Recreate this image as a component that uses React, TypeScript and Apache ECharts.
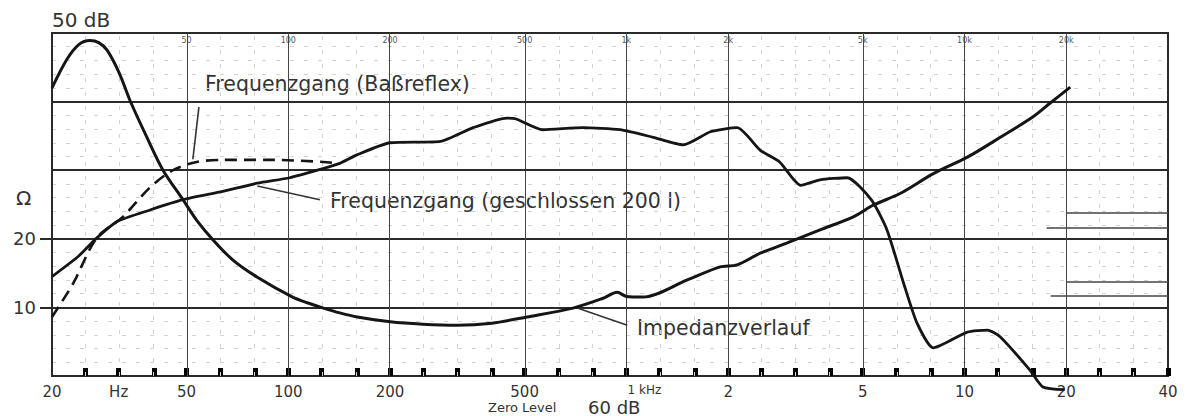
import React, { useEffect, useRef } from "react";
import * as echarts from "echarts";

// ---------- data ----------
const X_MIN_HZ = 20;
const X_MAX_HZ = 40000;

const IMP_FREQ = [20, 22.1, 24, 25.9, 27.5, 29.1, 31.6, 34, 38, 42.6, 48.8, 53.6, 60, 68.6, 81, 103, 115, 127, 142, 160, 200, 250, 316, 400, 508, 695, 850, 940, 1000, 1120, 1514, 1894, 2127, 2490, 2990, 3740, 4690, 5370, 6450, 8090, 10200, 12770, 15960, 17940, 20560];
const IMP_OHM = [42, 46.1, 48.3, 48.9, 48.6, 47.5, 44.2, 40.2, 35, 30, 25.7, 22.7, 19.8, 16.9, 14.4, 11.5, 10.6, 9.9, 9.2, 8.6, 7.9, 7.55, 7.4, 7.7, 8.6, 9.9, 11.3, 12.2, 11.6, 11.5, 14.0, 15.9, 16.2, 17.9, 19.4, 21.3, 23.2, 24.9, 26.6, 29.5, 31.9, 34.8, 37.8, 39.8, 42.1];

const CLOSED_FREQ = [20, 24, 27.1, 31.1, 39, 48.8, 64, 81, 101, 122, 142, 159, 200, 282, 352, 444, 470, 566, 744, 957, 1200, 1473, 1772, 2127, 2490, 2840, 3276, 3740, 4500, 5300, 5900, 6600, 7240, 8090, 10200, 11700, 12770, 15600, 17060, 19800];
const CLOSED_LEVEL = [14.5, 17.5, 20.1, 22.5, 24.2, 25.7, 26.9, 28.1, 28.9, 30, 31, 32.2, 34.0, 34.2, 36.2, 37.6, 37.5, 35.9, 36.2, 35.9, 34.8, 33.7, 35.6, 36.2, 32.9, 31.2, 27.8, 28.6, 28.9, 25.7, 21.3, 13.6, 7.7, 4.1, 6.4, 6.7, 5.7, 0.9, -1.6, -2];

const REFLEX_FREQ = [20, 23.1, 27.1, 32.4, 39, 45.6, 53.6, 64, 90, 127, 140];
const REFLEX_LEVEL = [8.6, 13.5, 20.1, 23.2, 27.5, 30, 31.2, 31.5, 31.5, 31.2, 31.0];

const MAJOR_HZ = [50, 100, 200, 500, 1000, 2000, 5000, 10000, 20000];
const TOP_LABELS = ["50", "100", "200", "500", "1k", "2k", "5k", "10k", "20k"];
const BOTTOM_HZ = [20, 31.5, 50, 100, 200, 500, 1000, 2000, 5000, 10000, 20000, 40000];
const BOTTOM_LABELS = ["20", "Hz", "50", "100", "200", "500", "1 kHz", "2", "5", "10", "20", "40"];
const THIRD_OCTAVE_HZ = [20, 25, 31.5, 40, 50, 63, 80, 100, 125, 160, 200, 250, 315, 400, 500, 630, 800, 1000, 1250, 1600, 2000, 2500, 3150, 4000, 5000, 6300, 8000, 10000, 12500, 16000, 20000, 25000, 31500, 40000];
const Y_LABEL_VALUES = [10, 20];
const Y_RULE_VALUES = [30, 40];

// short reference strokes at the right edge: [fromHz, toHz, level]
const SIDE_STROKES = [
  [20000, 40000, 23.8],
  [17500, 40000, 21.6],
  [20000, 40000, 13.7],
  [18000, 40000, 11.7],
];

// leader lines: [[hz, level], [hz, level]]
const LEADERS = [
  [[54.4, 39.2], [52.2, 31.6]],
  [[124, 25.7], [81, 27.7]],
  [[716, 9.9], [1006, 7.4]],
];

const lg = (f: number) => Math.log10(f);
const pairs = (fs: number[], vs: number[]) => fs.map((f, i) => [lg(f), vs[i]]);
const labelFor = (hzList: number[], labels: string[]) => (v: number) => {
  const i = hzList.findIndex((f) => Math.abs(lg(f) - v) < 1e-6);
  return i >= 0 ? labels[i] : "";
};

const INK = "#151515";
const GRID = "#2a2a2a";
const TXT = "#333";
const FAINT = "#d2d2d2";
const FONT = "DejaVu Sans";

export default function App() {
  const ref = useRef<HTMLDivElement>(null);
  useEffect(() => {
    if (!ref.current) return;
    const chart = echarts.init(ref.current, undefined, { renderer: "svg" });
    const minorHz = THIRD_OCTAVE_HZ.filter((f) => !MAJOR_HZ.includes(f) && f !== 20 && f !== 40000);
    const option: any = {
      animation: false,
      backgroundColor: "#fff",
      grid: { left: 52, right: 19, top: 33, bottom: 40, show: true, borderColor: GRID, borderWidth: 2 },
      xAxis: [
        {
          type: "value",
          position: "bottom",
          min: lg(X_MIN_HZ),
          max: lg(X_MAX_HZ),
          axisLine: { show: true, lineStyle: { color: GRID, width: 2 } },
          axisTick: {
            show: true,
            inside: true,
            length: 8,
            customValues: THIRD_OCTAVE_HZ.filter((f) => f !== 20).map(lg),
            lineStyle: { color: "#000", width: 5 },
          },
          axisLabel: {
            show: true,
            customValues: BOTTOM_HZ.map(lg),
            formatter: (v: number) => {
              const s = labelFor(BOTTOM_HZ, BOTTOM_LABELS)(v);
              return s === "1 kHz" ? "{k|1 kHz}" : s;
            },
            rich: { k: { padding: [0, 0, 0, 36], fontSize: 12, fontFamily: FONT, color: TXT } },
            color: TXT,
            fontSize: 15,
            fontFamily: FONT,
            margin: 8,
          },
          splitLine: { show: false },
        },
        {
          type: "value",
          position: "top",
          min: lg(X_MIN_HZ),
          max: lg(X_MAX_HZ),
          axisLine: { show: true, lineStyle: { color: GRID, width: 2 } },
          axisTick: { show: false },
          axisLabel: {
            show: true,
            inside: true,
            customValues: MAJOR_HZ.map(lg),
            formatter: labelFor(MAJOR_HZ, TOP_LABELS),
            color: "#555",
            fontSize: 8,
            fontFamily: FONT,
            margin: 3,
          },
          splitLine: { show: false },
        },
      ],
      yAxis: {
        type: "value",
        min: 0,
        max: 50,
        interval: 10,
        axisLine: { show: true, lineStyle: { color: GRID, width: 2 } },
        axisTick: { show: true, customValues: Y_LABEL_VALUES, length: 12, lineStyle: { color: GRID, width: 2 } },
        axisLabel: { customValues: Y_LABEL_VALUES, color: TXT, fontSize: 18, fontFamily: FONT, margin: 16 },
        splitLine: { show: true, lineStyle: { color: GRID, width: 2 } },
        minorTick: { show: false, splitNumber: 5 },
        minorSplitLine: { show: true, lineStyle: { color: FAINT, width: 1, type: [4, 10] } },
      },
      graphic: [
        { type: "text", left: 52, top: 10, style: { text: "50 dB", fontSize: 20, fontFamily: FONT, fill: TXT } },
        { type: "text", left: 16, top: 188, style: { text: "Ω", fontSize: 20, fontFamily: FONT, fill: TXT } },
        { type: "text", left: 205, top: 73, style: { text: "Frequenzgang (Baßreflex)", fontSize: 20.5, fontFamily: FONT, fill: TXT } },
        { type: "text", left: 330, top: 190, style: { text: "Frequenzgang (geschlossen 200 l)", fontSize: 20.5, fontFamily: FONT, fill: TXT } },
        { type: "text", left: 637, top: 317, style: { text: "Impedanzverlauf", fontSize: 20.5, fontFamily: FONT, fill: TXT } },
        { type: "text", left: 488, top: 401, style: { text: "Zero Level", fontSize: 13, fontFamily: FONT, fill: TXT } },
        { type: "text", left: 588, top: 398, style: { text: "60 dB", fontSize: 18, fontFamily: FONT, fill: TXT } },
      ],
      series: [
        {
          type: "line",
          name: "grid",
          data: [],
          silent: true,
          markLine: {
            silent: true,
            symbol: ["none", "none"],
            label: { show: false },
            animation: false,
            data: [
              ...minorHz.map((f) => ({ xAxis: lg(f), lineStyle: { color: FAINT, width: 1, type: [4, 10] } })),
              ...MAJOR_HZ.map((f) => ({ xAxis: lg(f), lineStyle: { color: "#444", width: 1, type: "solid" } })),
              ...Y_RULE_VALUES.map((v) => ({ yAxis: v, lineStyle: { color: GRID, width: 2, type: "solid" } })),
              ...SIDE_STROKES.map((s) => [
                { coord: [lg(s[0]), s[2]], lineStyle: { color: "#444", width: 1.5, type: "solid" } },
                { coord: [lg(s[1]), s[2]] },
              ]),
              ...LEADERS.map((l) => [
                { coord: [lg(l[0][0]), l[0][1]], lineStyle: { color: "#333", width: 1.6, type: "solid" } },
                { coord: [lg(l[1][0]), l[1][1]] },
              ]),
            ],
          },
        },
        {
          type: "line",
          name: "Impedanzverlauf",
          data: pairs(IMP_FREQ, IMP_OHM),
          smooth: 0.3,
          showSymbol: false,
          lineStyle: { color: INK, width: 3 },
          z: 5,
        },
        {
          type: "line",
          name: "Frequenzgang (geschlossen 200 l)",
          data: pairs(CLOSED_FREQ, CLOSED_LEVEL),
          smooth: 0.2,
          showSymbol: false,
          clip: false,
          lineStyle: { color: INK, width: 2.8 },
          z: 5,
        },
        {
          type: "line",
          name: "Frequenzgang (Baßreflex)",
          data: pairs(REFLEX_FREQ, REFLEX_LEVEL),
          smooth: 0.3,
          showSymbol: false,
          lineStyle: { color: INK, width: 2.6, type: [12, 7] },
          z: 5,
        },
      ],
    };
    chart.setOption(option);
    return () => chart.dispose();
  }, []);
  return (
    <div
      ref={ref}
      style={{ position: "absolute", left: 0, top: 0, width: 1187, height: 416, background: "#fff" }}
    />
  );
}
